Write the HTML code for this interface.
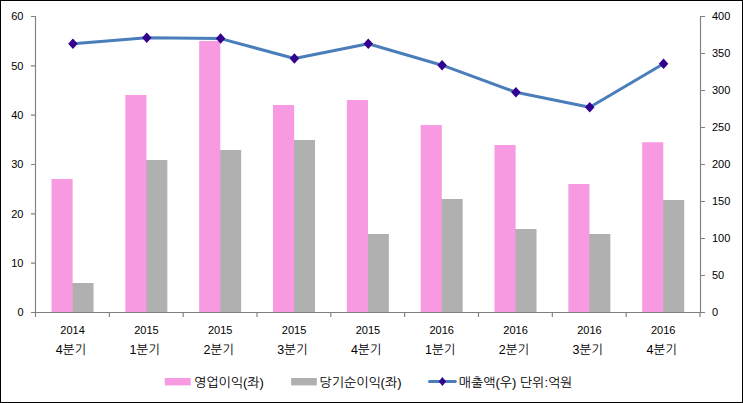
<!DOCTYPE html>
<html><head><meta charset="utf-8"><title>chart</title>
<style>html,body{margin:0;padding:0;background:#fff;font-family:"Liberation Sans",sans-serif}svg{display:block}</style>
</head><body>
<svg width="743" height="403" viewBox="0 0 743 403">
<rect x="0.5" y="0.5" width="742" height="402" fill="#fff" stroke="#000" stroke-width="1"/>
<rect x="71.62" y="283" width="21.9" height="29" fill="#B0B0B0"/>
<rect x="51.52" y="179" width="21.1" height="133" fill="#F79AE2"/>
<rect x="145.45" y="160" width="21.9" height="152" fill="#B0B0B0"/>
<rect x="125.35" y="95" width="21.1" height="217" fill="#F79AE2"/>
<rect x="219.28" y="150" width="21.9" height="162" fill="#B0B0B0"/>
<rect x="199.19" y="41" width="21.1" height="271" fill="#F79AE2"/>
<rect x="293.12" y="140" width="21.9" height="172" fill="#B0B0B0"/>
<rect x="273.02" y="105" width="21.1" height="207" fill="#F79AE2"/>
<rect x="366.95" y="234" width="21.9" height="78" fill="#B0B0B0"/>
<rect x="346.85" y="100" width="21.1" height="212" fill="#F79AE2"/>
<rect x="440.78" y="199" width="21.9" height="113" fill="#B0B0B0"/>
<rect x="420.69" y="125" width="21.1" height="187" fill="#F79AE2"/>
<rect x="514.62" y="229" width="21.9" height="83" fill="#B0B0B0"/>
<rect x="494.52" y="145" width="21.1" height="167" fill="#F79AE2"/>
<rect x="588.45" y="234" width="21.9" height="78" fill="#B0B0B0"/>
<rect x="568.35" y="184" width="21.1" height="128" fill="#F79AE2"/>
<rect x="662.28" y="200" width="21.9" height="112" fill="#B0B0B0"/>
<rect x="642.19" y="142.2" width="21.1" height="169.8" fill="#F79AE2"/>
<path d="M35.5 16.0V312.5M700.5 16.0V312.5M35 312.5H701.0M31 312.5H35.5M31 263.17H35.5M31 213.83H35.5M31 164.5H35.5M31 115.17H35.5M31 65.83H35.5M31 16.5H35.5M700.5 312.5H705.0M700.5 275.5H705.0M700.5 238.5H705.0M700.5 201.5H705.0M700.5 164.5H705.0M700.5 127.5H705.0M700.5 90.5H705.0M700.5 53.5H705.0M700.5 16.5H705.0M35.5 312.5V317.0M109.33 312.5V317.0M183.17 312.5V317.0M257 312.5V317.0M330.83 312.5V317.0M404.67 312.5V317.0M478.5 312.5V317.0M552.33 312.5V317.0M626.17 312.5V317.0M700 312.5V317.0" fill="none" stroke="#808080" stroke-width="1.15"/>
<polyline points="72.92,43.7 146.75,37.8 220.58,38.6 294.42,58.5 368.25,43.7 442.08,65.2 515.92,92.2 589.75,107.3 663.58,63.7" fill="none" stroke="#4A7EBB" stroke-width="3" stroke-linejoin="round" stroke-linecap="round"/>
<path d="M72.92 38.45L77.67 43.7L72.92 48.95L68.17 43.7ZM146.75 32.55L151.5 37.8L146.75 43.05L142 37.8ZM220.58 33.35L225.33 38.6L220.58 43.85L215.83 38.6ZM294.42 53.25L299.17 58.5L294.42 63.75L289.67 58.5ZM368.25 38.45L373 43.7L368.25 48.95L363.5 43.7ZM442.08 59.95L446.83 65.2L442.08 70.45L437.33 65.2ZM515.92 86.95L520.67 92.2L515.92 97.45L511.17 92.2ZM589.75 102.05L594.5 107.3L589.75 112.55L585 107.3ZM663.58 58.45L668.33 63.7L663.58 68.95L658.83 63.7Z" fill="#33008F"/>
<rect x="164.8" y="378" width="25.9" height="7.4" fill="#F79AE2"/>
<rect x="291.1" y="378" width="25.7" height="7.4" fill="#B0B0B0"/>
<path d="M429.5 381.4H455.3" stroke="#4A7EBB" stroke-width="3" stroke-linecap="round" fill="none"/>
<path d="M442.4 376.9L446.1 381.4L442.4 385.9L438.7 381.4Z" fill="#33008F"/>
<g font-family="&quot;Liberation Sans&quot;, &quot;NanumGothic&quot;, sans-serif" font-size="11" fill="#000">
<g text-anchor="end">
<text x="23.5" y="316.2">0</text>
<text x="23.5" y="266.9">10</text>
<text x="23.5" y="217.5">20</text>
<text x="23.5" y="168.2">30</text>
<text x="23.5" y="118.9">40</text>
<text x="23.5" y="69.5">50</text>
<text x="23.5" y="20.2">60</text>
</g>
<g text-anchor="start">
<text x="712" y="316.2">0</text>
<text x="712" y="279.2">50</text>
<text x="712" y="242.2">100</text>
<text x="712" y="205.2">150</text>
<text x="712" y="168.2">200</text>
<text x="712" y="131.2">250</text>
<text x="712" y="94.2">300</text>
<text x="712" y="57.2">350</text>
<text x="712" y="20.2">400</text>
</g>
<g text-anchor="middle">
<text x="72.6" y="333.9">2014</text>
<text x="146.4" y="333.9">2015</text>
<text x="220.2" y="333.9">2015</text>
<text x="294.1" y="333.9">2015</text>
<text x="367.9" y="333.9">2015</text>
<text x="441.7" y="333.9">2016</text>
<text x="515.6" y="333.9">2016</text>
<text x="589.4" y="333.9">2016</text>
<text x="663.2" y="333.9">2016</text>
</g>
<g text-anchor="middle" font-size="12.5">
<text x="71" y="354">4분기</text>
<text x="144.8" y="354">1분기</text>
<text x="218.7" y="354">2분기</text>
<text x="292.5" y="354">3분기</text>
<text x="366.3" y="354">4분기</text>
<text x="440.2" y="354">1분기</text>
<text x="514" y="354">2분기</text>
<text x="587.8" y="354">3분기</text>
<text x="661.7" y="354">4분기</text>
</g>
<g text-anchor="start" font-size="13">
<text x="194" y="387">영업이익(좌)</text>
<text x="319.5" y="387">당기순이익(좌)</text>
<text x="458.8" y="387">매출액(우) 단위:억원</text>
</g>
</g>
</svg>
</body></html>
